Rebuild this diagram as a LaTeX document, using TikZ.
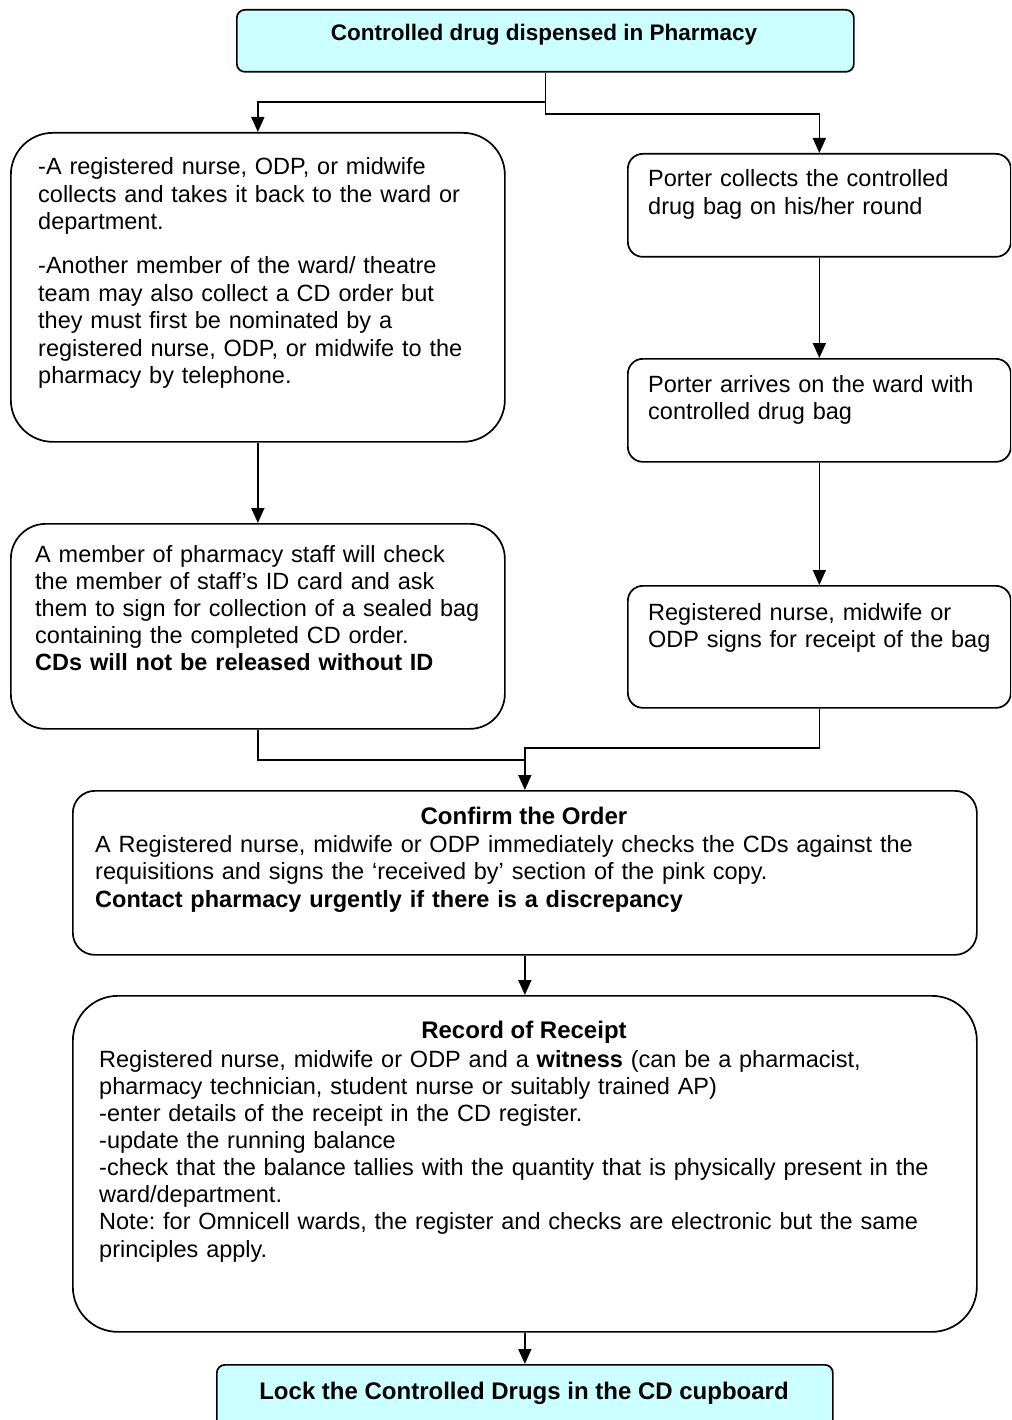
\documentclass[tikz,border=0pt]{standalone}
\usepackage{fontspec}
\setmainfont{Liberation Sans}
\frenchspacing
\usetikzlibrary{arrows.meta,calc}
\definecolor{cdcyan}{HTML}{CCFFFF}
\begin{document}
\begin{tikzpicture}[x=1pt,y=-1pt,
  cdbox/.style={draw, line width=1.7pt, anchor=north west, inner sep=0pt},
  conn/.style={line width=1.7pt},
  arr/.style={conn, -{Triangle[length=15pt,width=13pt]}},
  txt/.style={anchor=base west, inner sep=0pt, align=left, text width=880pt,
              font=\fontsize{23.5}{27.5}\selectfont},
  ttl/.style={anchor=base, inner sep=0pt, font=\bfseries\fontsize{24}{27.5}\selectfont}]
\useasboundingbox (0,0) rectangle (1011,1420);
\clip (0,0) rectangle (1011,1420);
% boxes
\node[cdbox, fill=cdcyan, rounded corners=8pt, minimum width=617pt, minimum height=62pt] (top) at (236,9) {};
\node[cdbox, rounded corners=42pt, minimum width=494pt, minimum height=309pt] (l1) at (10,132) {};
\node[cdbox, rounded corners=35pt, minimum width=494pt, minimum height=205pt] (l2) at (10,523) {};
\node[cdbox, rounded corners=15pt, minimum width=383pt, minimum height=103pt] (r1) at (627,153) {};
\node[cdbox, rounded corners=15pt, minimum width=383pt, minimum height=103pt] (r2) at (627,358) {};
\node[cdbox, rounded corners=15pt, minimum width=383pt, minimum height=122pt] (r3) at (627,585) {};
\node[cdbox, rounded corners=22pt, minimum width=904pt, minimum height=164pt] (conf) at (72,790) {};
\node[cdbox, rounded corners=45pt, minimum width=904pt, minimum height=336pt] (rec) at (72,995) {};
\node[cdbox, fill=cdcyan, rounded corners=8pt, minimum width=616pt, minimum height=90pt] (bot) at (216,1364) {};
% texts
\node[ttl, font=\bfseries\fontsize{22.5}{27}\selectfont] (topt) at (544,41) {Controlled drug dispensed in Pharmacy};
\node[txt, text width=470pt] (l1t) at (38,175) {-A registered nurse, ODP, or midwife\\collects and takes it back to the ward or\\department.\\[16.5pt]-Another member of the ward/ theatre\\team may also collect a CD order but\\they must first be nominated by a\\registered nurse, ODP, or midwife to the\\pharmacy by telephone.};
\node[txt, text width=470pt, font=\fontsize{23.5}{27}\selectfont] (l2t) at (35,562) {A member of pharmacy staff will check\\the member of staff’s ID card and ask\\them to sign for collection of a sealed bag\\containing the completed CD order.\\\textbf{CDs will not be released without ID}};
\node[txt, text width=360pt] (r1t) at (648,187) {Porter collects the controlled\\drug bag on his/her round};
\node[txt, text width=360pt] (r2t) at (648,392) {Porter arrives on the ward with\\controlled drug bag};
\node[txt, text width=360pt] (r3t) at (648,620) {Registered nurse, midwife or\\ODP signs for receipt of the bag};
\node[ttl] (conft) at (524,824) {Confirm the Order};
\node[txt, font=\fontsize{23.5}{27.5}\selectfont] (confb) at (95,852) {A Registered nurse, midwife or ODP immediately checks the CDs against the\\requisitions and signs the ‘received by’ section of the pink copy.\\\textbf{Contact pharmacy urgently if there is a discrepancy}};
\node[ttl] (rect) at (524,1038) {Record of Receipt};
\node[txt, font=\fontsize{23.5}{27.15}\selectfont] (recb) at (99,1067) {Registered nurse, midwife or ODP and a \textbf{witness} (can be a pharmacist,\\pharmacy technician, student nurse or suitably trained AP)\\-enter details of the receipt in the CD register.\\-update the running balance\\-check that the balance tallies with the quantity that is physically present in the\\ward/department.\\Note: for Omnicell wards, the register and checks are electronic but the same\\principles apply.};
\node[ttl] (bott) at (524,1399) {Lock the Controlled Drugs in the CD cupboard};
% connectors
\draw[arr] (top.south) -- ++(0,29) -| (l1.north);
\draw[arr] (top.south) -- ++(0,41) -| (r1.north);
\draw[arr] (l1.south) -- (l2.north);
\draw[arr] (r1.south) -- (r2.north);
\draw[arr] (r2.south) -- (r3.north);
\coordinate (j) at ($(conf.north)+(0,-30)$);
\draw[arr] (l2.south) |- (j) -- (conf.north);
\draw[conn] (r3.south) |- ($(j)+(0,-12)$) -- (j);
\draw[arr] (conf.south) -- (rec.north);
\draw[arr] (rec.south) -- (bot.north);
\end{tikzpicture}
\end{document}
